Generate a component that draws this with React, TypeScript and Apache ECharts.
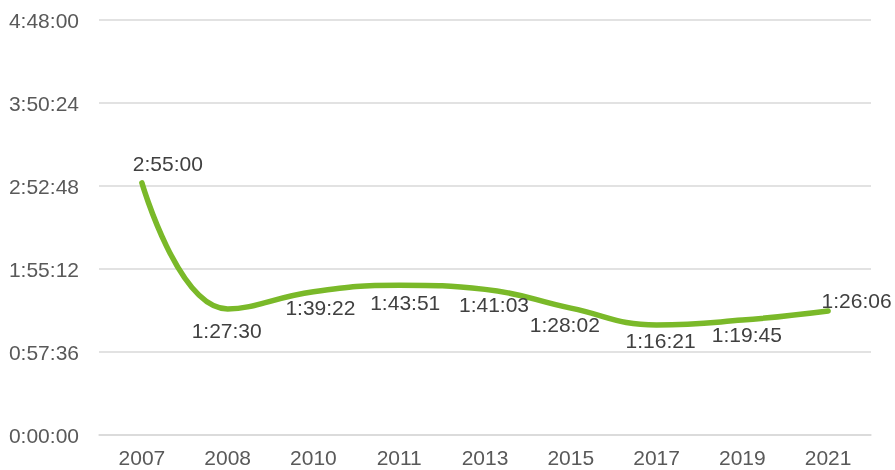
import React, { useEffect, useRef } from "react";
import * as echarts from "echarts";

const categories = ["2007", "2008", "2010", "2011", "2013", "2015", "2017", "2019", "2021"];
const timeLabels = ["2:55:00", "1:27:30", "1:39:22", "1:43:51", "1:41:03", "1:28:02", "1:16:21", "1:19:45", "1:26:06"];
const labelOffsets = [[26, -19], [-1, 22], [7, 16], [6, 17], [9, 15], [-6, 16], [4, 15.5], [4.5, 14], [28.5, -10]];

const FONT = "Arial, 'Liberation Sans', sans-serif";

const toSec = (s: string) => {
  const [h, m, sec] = s.split(":").map(Number);
  return h * 3600 + m * 60 + sec;
};
const values = timeLabels.map(toSec);

const fmt = (v: number) => {
  const h = Math.floor(v / 3600);
  const m = Math.floor((v % 3600) / 60);
  const s = Math.round(v % 60);
  return `${h}:${String(m).padStart(2, "0")}:${String(s).padStart(2, "0")}`;
};

export default function App() {
  const ref = useRef<HTMLDivElement>(null);
  useEffect(() => {
    if (!ref.current) return;
    const chart = echarts.init(ref.current, null, { renderer: "svg" });
    chart.setOption({
      animation: false,
      grid: { left: 99, right: 24, top: 20, bottom: 35, outerBoundsMode: "none", containLabel: false },
      textStyle: { fontFamily: FONT },
      xAxis: {
        type: "category",
        data: categories,
        boundaryGap: true,
        axisLine: { show: true, lineStyle: { color: "#d9d9d9", width: 1.5 } },
        axisTick: { show: false },
        axisLabel: { color: "#595959", fontSize: 21, lineHeight: 17, margin: 14, fontFamily: FONT },
      },
      yAxis: {
        type: "value",
        min: 0,
        max: 17280,
        interval: 3456,
        axisLine: { show: false },
        axisTick: { show: false },
        splitLine: { lineStyle: { color: "#d9d9d9", width: 1.5 } },
        axisLabel: { color: "#595959", fontSize: 21, margin: 20, fontFamily: FONT, formatter: (v: number) => fmt(v) },
      },
      series: [
        {
          type: "line",
          smooth: 0.45,
          symbol: "circle",
          symbolSize: 1,
          showSymbol: true,
          itemStyle: { color: "rgba(0,0,0,0)" },
          lineStyle: { color: "#7ab929", width: 5.5, cap: "round" },
          labelLayout: { hideOverlap: false },
          data: values.map((v, i) => ({
            value: v,
            label: {
              show: true,
              position: [labelOffsets[i][0] + 0.5, labelOffsets[i][1] + 0.5],
              align: "center",
              verticalAlign: "middle",
              formatter: timeLabels[i],
              color: "#404040",
              opacity: 1,
              fontSize: 21,
              fontFamily: FONT,
            },
          })),
        },
      ],
    });
    return () => chart.dispose();
  }, []);
  return <div ref={ref} style={{ position: "fixed", left: 0, top: 0, width: 895, height: 470 }} />;
}
